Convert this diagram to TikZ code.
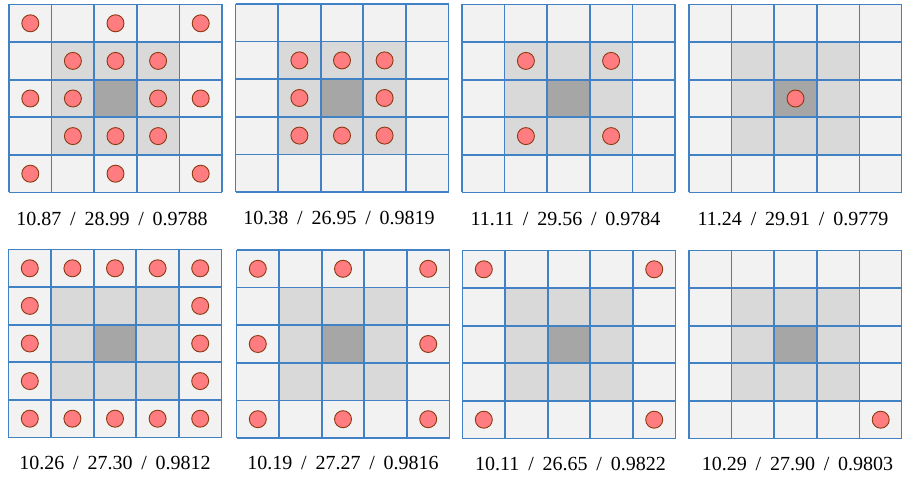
\documentclass[tikz,border=0pt]{standalone}
\usepackage{fontspec}
\setmainfont{Liberation Serif}
\definecolor{cellbg}{HTML}{F2F2F2}
\definecolor{ringbg}{HTML}{D9D9D9}
\definecolor{centerbg}{HTML}{A6A6A6}
\definecolor{gridblue}{HTML}{4282C4}
\definecolor{dotred}{HTML}{FF7C80}
\definecolor{dotbrown}{HTML}{8B3A10}
\tikzset{
  dot/.style={circle, fill=dotred, draw=dotbrown, line width=0.9pt, minimum size=17pt, inner sep=0pt},
  gline/.style={draw=gridblue, line width=1.7pt},
  lab/.style={font=\fontsize{20}{24}\selectfont, inner sep=0pt, anchor=center}
}
\newcommand{\lgap}{\hspace{0.44em}}
\newcommand{\gridbox}[7]{%
  \begin{scope}[shift={(#1,#2)}]
    \fill[cellbg] (0,0) rectangle (213,188);
    \fill[ringbg] (42.6,37.6) rectangle (170.4,150.4);
    \fill[centerbg] (85.2,75.2) rectangle (127.8,112.8);
    \foreach \i in {0,...,5} {
      \draw[gline] ({\i*42.6},0) -- ({\i*42.6},188);
      \draw[gline] (0,{\i*37.6}) -- (213,{\i*37.6});
    }
    \foreach \c/\r in {#4} {
      \node[dot] (#3-\c-\r) at ({(\c+0.5)*42.6},{(\r+0.5)*37.6}) {};
    }
    \node[lab] (#3-lab) at ({106.5+#7},{188+#6}) {#5};
  \end{scope}%
}
\begin{document}
\begin{tikzpicture}[x=1pt,y=-1pt]
\useasboundingbox (0,0) rectangle (902,478);
% row 1
\gridbox{9}{4.5}{ga}{0/0,2/0,4/0,0/2,4/2,0/4,2/4,4/4,1/1,2/1,3/1,1/2,3/2,1/3,2/3,3/3}{10.87\lgap/\lgap28.99\lgap/\lgap0.9788}{26}{-3.5}
\gridbox{235.5}{4}{gb}{1/1,2/1,3/1,1/2,3/2,1/3,2/3,3/3}{10.38\lgap/\lgap26.95\lgap/\lgap0.9819}{26}{-3}
\gridbox{462}{4.5}{gc}{1/1,3/1,1/3,3/3}{11.11\lgap/\lgap29.56\lgap/\lgap0.9784}{26}{-3}
\gridbox{689}{4.5}{gd}{2/2}{11.24\lgap/\lgap29.91\lgap/\lgap0.9779}{26}{-2.5}
% row 2
\gridbox{8.5}{249.5}{ge}{0/0,1/0,2/0,3/0,4/0,0/1,4/1,0/2,4/2,0/3,4/3,0/4,1/4,2/4,3/4,4/4}{10.26\lgap/\lgap27.30\lgap/\lgap0.9812}{25}{0}
\gridbox{236.5}{250}{gf}{0/0,2/0,4/0,0/2,4/2,0/4,2/4,4/4}{10.19\lgap/\lgap27.27\lgap/\lgap0.9816}{25}{0}
\gridbox{462.5}{250.5}{gg}{0/0,4/0,0/4,4/4}{10.11\lgap/\lgap26.65\lgap/\lgap0.9822}{25}{1.5}
\gridbox{689}{250.5}{gh}{4/4}{10.29\lgap/\lgap27.90\lgap/\lgap0.9803}{25}{2}
\end{tikzpicture}
\end{document}
